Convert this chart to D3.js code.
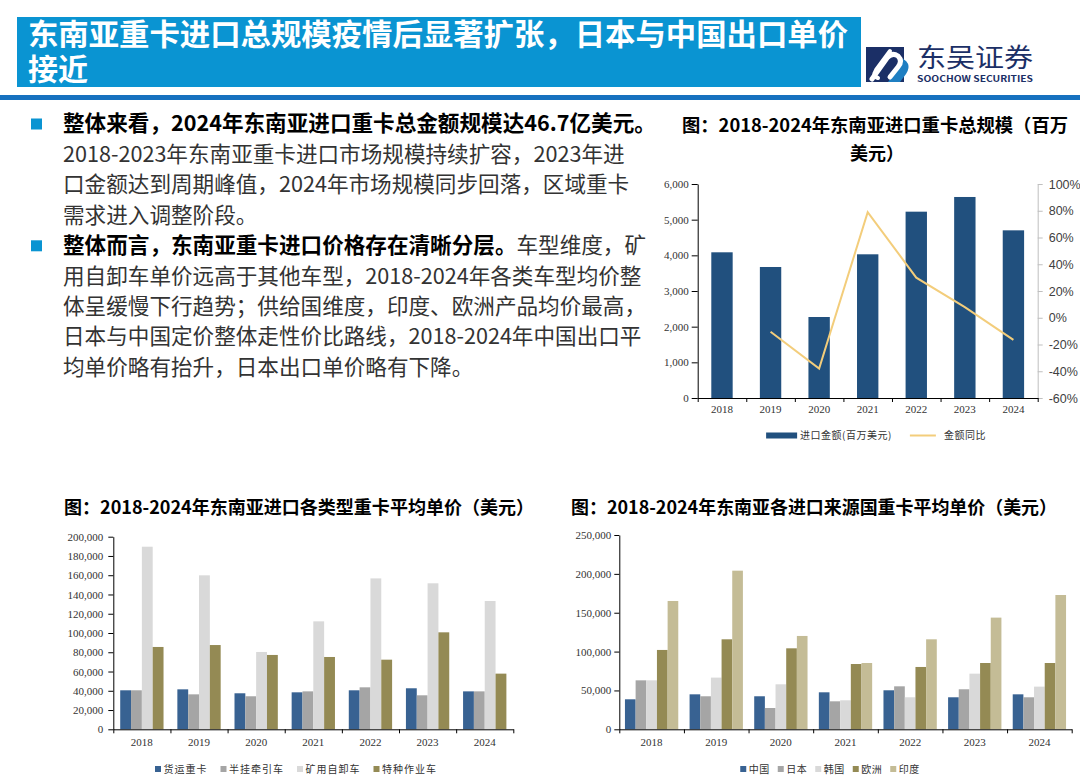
<!DOCTYPE html>
<html lang="zh-CN">
<head>
<meta charset="utf-8">
<title>东南亚重卡进口</title>
<script src="https://cdn.jsdelivr.net/npm/d3@7"></script>
<style>
  body { margin: 0; background: #fff; }
  svg text { font-family: "Noto Sans CJK SC", sans-serif; }
  .num text { font-family: "Liberation Serif", serif; font-size: 11px; fill: #333; }
  .pct text { font-family: "Liberation Sans", sans-serif; font-size: 12.5px; fill: #404040; }
</style>
</head>
<body>
<div id="chart"></div>
<script>
"use strict"
// ---- 数据 ----
const years = ["2018", "2019", "2020", "2021", "2022", "2023", "2024"];

// 进口总规模（百万美元）与同比
const importAmount = [4085, 3673, 2271, 4029, 5224, 5636, 4701];
const importYoY = [null, -10.5, -38, 79, 30, 8, -16.5];
const amountTicks = [0, 1000, 2000, 3000, 4000, 5000, 6000];
const yoyTicks = [-60, -40, -20, 0, 20, 40, 60, 80, 100];

// 各类型重卡平均单价（美元）
const typeNames = ["货运重卡", "半挂牵引车", "矿用自卸车", "特种作业车"];
const freightTruck = [40500, 41500, 37400, 38400, 40500, 42600, 39400];
const semiTractor = [40500, 36300, 34300, 39400, 43600, 35300, 39400];
const miningDump = [189600, 159900, 80300, 112100, 156700, 151600, 133200];
const specialVehicle = [85500, 87500, 77200, 75100, 72300, 100700, 57800];
const typeTicks = [0, 20000, 40000, 60000, 80000, 100000, 120000, 140000, 160000, 180000, 200000];

// 各进口来源国重卡平均单价（美元）
const originNames = ["中国", "日本", "韩国", "欧洲", "印度"];
const fromChina = [38600, 45000, 42500, 47600, 50200, 41200, 45000];
const fromJapan = [63000, 42500, 27400, 36000, 55300, 51500, 41200];
const fromKorea = [63000, 66500, 57900, 37300, 41200, 71600, 54900];
const fromEurope = [102100, 115800, 104200, 84000, 80200, 85300, 85300];
const fromIndia = [165100, 204100, 120100, 85300, 115800, 143700, 172800];
const originTicks = [0, 50000, 100000, 150000, 200000, 250000];

const W = 1080, H = 781;
const svg = d3.select("#chart").append("svg")
  .attr("width", W).attr("height", H).style("display", "block");
svg.append("rect").attr("width", W).attr("height", H).attr("fill", "#fff");

// ---- 页眉 ----
svg.append("rect").attr("x", 17).attr("y", 17).attr("width", 844).attr("height", 70).attr("fill", "#0a94d2");
svg.append("rect").attr("x", 0).attr("y", 95).attr("width", W).attr("height", 5).attr("fill", "#1671bf");
const head = svg.append("g").attr("fill", "#fff").attr("font-weight", "bold").attr("font-size", 30);
head.append("text").attr("x", 28).attr("y", 44.5).attr("textLength", 820).attr("lengthAdjust", "spacingAndGlyphs")
  .text("东南亚重卡进口总规模疫情后显著扩张，日本与中国出口单价");
head.append("text").attr("x", 28).attr("y", 79.5).text("接近");

// 东吴证券标志
const logo = svg.append("g");
logo.append("rect").attr("x", 866).attr("y", 47).attr("width", 38).attr("height", 35).attr("fill", "#1b2f66");
logo.append("path").attr("d", "M897,56 Q914,62 906,74 L900,82 L888,82 L897,70 Q901,64 897,56 Z").attr("fill", "#1f7fc2");
logo.append("path").attr("d", "M872,79 L887,58 Q892,52 898,56 Q903,61 898,67 L890,77")
  .attr("fill", "none").attr("stroke", "#fff").attr("stroke-width", 5).attr("stroke-linecap", "round");
logo.append("path").attr("d", "M890,51 L876,70 Q872,76 878,78")
  .attr("fill", "none").attr("stroke", "#fff").attr("stroke-width", 4).attr("stroke-linecap", "round");
logo.append("text").attr("x", 917).attr("y", 67).attr("font-size", 26).attr("fill", "#1b2f66")
  .attr("textLength", 116).attr("lengthAdjust", "spacingAndGlyphs").text("东吴证券");
logo.append("text").attr("x", 917).attr("y", 82).attr("font-size", 8.5).attr("font-weight", "bold")
  .attr("font-family", "Liberation Sans, sans-serif").attr("fill", "#1b2f66")
  .attr("textLength", 116).attr("lengthAdjust", "spacingAndGlyphs").text("SOOCHOW SECURITIES");

// ---- 正文 ----
const bodyLines = [
  [["整体来看，2024年东南亚进口重卡总金额规模达46.7亿美元。", true]],
  [["2018-2023年东南亚重卡进口市场规模持续扩容，2023年进", false]],
  [["口金额达到周期峰值，2024年市场规模同步回落，区域重卡", false]],
  [["需求进入调整阶段。", false]],
  [["整体而言，东南亚重卡进口价格存在清晰分层。", true], ["车型维度，矿", false]],
  [["用自卸车单价远高于其他车型，2018-2024年各类车型均价整", false]],
  [["体呈缓慢下行趋势；供给国维度，印度、欧洲产品均价最高，", false]],
  [["日本与中国定价整体走性价比路线，2018-2024年中国出口平", false]],
  [["均单价略有抬升，日本出口单价略有下降。", false]]
];
const body = svg.append("g").attr("font-size", 21.6);
bodyLines.forEach((parts, i) => {
  const t = body.append("text").attr("x", 63).attr("y", 123.5 + i * 30.45).attr("dy", "0.36em");
  parts.forEach(p => {
    t.append("tspan").text(p[0]).attr("font-weight", p[1] ? "bold" : "normal").attr("fill", p[1] ? "#000" : "#333");
  });
});
[0, 4].forEach(i => {
  body.append("rect").attr("x", 31).attr("y", 118.5 + i * 30.45).attr("width", 11).attr("height", 11).attr("fill", "#0a94d2");
});

// ---- 图例 ----
function legendRow(items, cx, y, fontSize, spacing) {
  const g = svg.append("g");
  let cur = 0, lastAfter = 0;
  items.forEach(it => {
    if (it.line) {
      g.append("line").attr("x1", cur).attr("x2", cur + it.w).attr("y1", y).attr("y2", y)
        .attr("stroke", it.color).attr("stroke-width", 2);
    } else {
      g.append("rect").attr("x", cur).attr("y", y - it.h / 2).attr("width", it.w).attr("height", it.h).attr("fill", it.color);
    }
    cur += it.w + it.gap;
    const t = g.append("text").attr("x", cur).attr("y", y).attr("dy", "0.35em")
      .attr("font-size", fontSize).attr("letter-spacing", spacing).attr("fill", "#333").text(it.label);
    cur += t.node().getComputedTextLength() + it.after;
    lastAfter = it.after;
  });
  g.attr("transform", `translate(${cx - (cur - lastAfter) / 2},0)`);
}

// 年份刻度（类目之间的小刻度）
function yearAxis(x, y0, pad) {
  const edge = d3.scaleLinear().domain([0, years.length]).range(x.range());
  svg.append("g").attr("transform", `translate(0,${y0})`)
    .call(d3.axisBottom(edge).tickValues(d3.range(years.length + 1)).tickFormat("").tickSize(4).tickSizeOuter(0));
  svg.append("g").attr("class", "num").attr("transform", `translate(0,${y0})`)
    .call(d3.axisBottom(x).tickSize(0).tickPadding(pad))
    .call(g => g.select(".domain").remove());
}

// ---- 图1：进口总规模 ----
svg.append("text").attr("x", 682).attr("y", 131.5).attr("font-size", 18).attr("font-weight", "bold")
  .attr("textLength", 386).attr("lengthAdjust", "spacingAndGlyphs").text("图：2018-2024年东南亚进口重卡总规模（百万");
svg.append("text").attr("x", 850).attr("y", 160).attr("font-size", 18).attr("font-weight", "bold").text("美元）");

const x1 = d3.scaleBand().domain(years).range([697.7, 1037.7]).paddingInner(0.56).paddingOuter(0.28);
const y1 = d3.scaleLinear().domain([0, 6000]).range([398, 184]);
const yR = d3.scaleLinear().domain([-60, 100]).range([398, 184]);

svg.append("g").selectAll("rect").data(importAmount).join("rect")
  .attr("x", (d, i) => x1(years[i])).attr("width", x1.bandwidth())
  .attr("y", d => y1(d)).attr("height", d => y1(0) - y1(d)).attr("fill", "#21507e");

const yoyPts = importYoY.map((v, i) => ({ v: v, yr: years[i] }));
svg.append("path").datum(yoyPts)
  .attr("fill", "none").attr("stroke", "#f3cd7b").attr("stroke-width", 2)
  .attr("d", d3.line().defined(d => d.v !== null).x(d => x1(d.yr) + x1.bandwidth() / 2).y(d => yR(d.v)));

svg.append("g").attr("class", "num").attr("transform", "translate(697.7,0)")
  .call(d3.axisLeft(y1).tickValues(amountTicks).tickFormat(d3.format(",")).tickSize(6).tickPadding(3).tickSizeOuter(0));
svg.append("g").attr("class", "pct").attr("transform", "translate(1037.7,0)")
  .call(d3.axisRight(yR).tickValues(yoyTicks).tickFormat(d => d + "%").tickSize(5).tickPadding(6).tickSizeOuter(0))
  .call(g => g.selectAll("line,path").attr("stroke", "#bfbfbf"));
yearAxis(x1, 398, 7);

legendRow([
  { label: "进口金额(百万美元)", color: "#21507e", w: 31, h: 6, gap: 3, after: 18 },
  { label: "金额同比", color: "#f3cd7b", w: 26, line: true, gap: 8, after: 0 }
], 876, 435.5, 10, 0.5);

// ---- 分组柱状图 ----
function groupedBars(opt) {
  const x = d3.scaleBand().domain(years).range(opt.xr).paddingInner(opt.pad).paddingOuter(opt.pad / 2);
  const y = d3.scaleLinear().domain([0, opt.max]).range(opt.yr);
  const xs = d3.scaleBand().domain(opt.names).range([0, x.bandwidth()]);
  const g = svg.append("g");
  opt.series.forEach((vals, s) => {
    g.append("g").selectAll("rect").data(vals).join("rect")
      .attr("x", (d, i) => x(years[i]) + xs(opt.names[s])).attr("width", xs.bandwidth())
      .attr("y", d => y(d)).attr("height", d => y(0) - y(d)).attr("fill", opt.colors[s]);
  });
  svg.append("g").attr("class", "num").attr("transform", `translate(${opt.xr[0]},0)`)
    .call(d3.axisLeft(y).tickValues(opt.ticks).tickFormat(d3.format(",")).tickSize(5).tickPadding(opt.lpad).tickSizeOuter(0));
  yearAxis(x, opt.yr[0], 9);
  legendRow(opt.names.map((n, s) => ({ label: n, color: opt.colors[s], w: 6, h: 6, gap: 2.5, after: opt.legendGap })),
    opt.legendX, 769, 10, opt.legendSpacing);
}

svg.append("text").attr("x", 64).attr("y", 514).attr("font-size", 18).attr("font-weight", "bold")
  .attr("textLength", 470).attr("lengthAdjust", "spacingAndGlyphs").text("图：2018-2024年东南亚进口各类型重卡平均单价（美元）");
groupedBars({
  names: typeNames,
  series: [freightTruck, semiTractor, miningDump, specialVehicle],
  colors: ["#386292", "#a5a5a5", "#d9d9d9", "#948a54"],
  xr: [113.3, 513.3], yr: [729.3, 536.7], max: 200000, ticks: typeTicks,
  pad: 0.242, lpad: 5, legendX: 296, legendGap: 13, legendSpacing: 1
});

svg.append("text").attr("x", 571).attr("y", 514).attr("font-size", 18).attr("font-weight", "bold")
  .attr("textLength", 486).attr("lengthAdjust", "spacingAndGlyphs").text("图：2018-2024年东南亚各进口来源国重卡平均单价（美元）");
groupedBars({
  names: originNames,
  series: [fromChina, fromJapan, fromKorea, fromEurope, fromIndia],
  colors: ["#386292", "#a5a5a5", "#d9d9d9", "#948a54", "#c4bc96"],
  xr: [619.3, 1071.7], yr: [729.3, 535], max: 250000, ticks: originTicks,
  pad: 0.175, lpad: 3, legendX: 830, legendGap: 8, legendSpacing: 0.5
});
</script>
</body>
</html>
